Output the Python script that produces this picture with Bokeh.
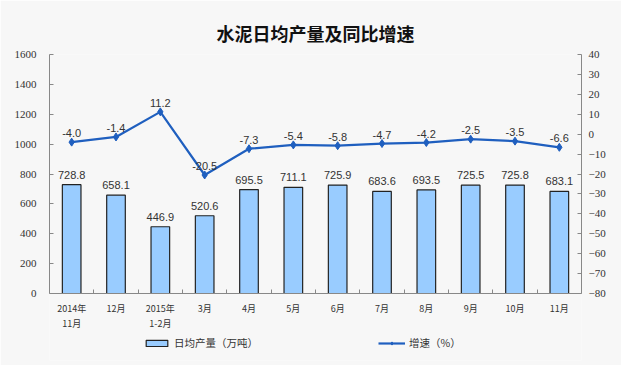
from bokeh.plotting import figure
from bokeh.models import (ColumnDataSource, Range1d, LinearAxis, FixedTicker, LabelSet,
                          Legend, LegendItem, Title)
from bokeh.embed import file_html
from bokeh.resources import INLINE
from bokeh.core.properties import value

categories = ["2014年\n11月", "12月", "2015年\n1-2月", "3月", "4月", "5月",
              "6月", "7月", "8月", "9月", "10月", "11月"]
output = [728.8, 658.1, 446.9, 520.6, 695.5, 711.1, 725.9, 683.6, 693.5, 725.5, 725.8, 683.1]
growth = [-4.0, -1.4, 11.2, -20.5, -7.3, -5.4, -5.8, -4.7, -4.2, -2.5, -3.5, -6.6]
left_ticks = [0, 200, 400, 600, 800, 1000, 1200, 1400, 1600]
right_ticks = [-80, -70, -60, -50, -40, -30, -20, -10, 0, 10, 20, 30, 40]

BG = "#f7f7f7"
BAR = "#99ccff"
LINE = "#1f5fbf"

W, H = 621, 365
TOP, BOTTOM, LEFT, RIGHT = 54, 5, 49, 40
ZERO_Y = 293  # pixel row of the value-axis zero
px_per_unit = (ZERO_Y - TOP) / 1600.0
low = -(H - BOTTOM - ZERO_Y) / px_per_unit
g_low = -80 + low * 120.0 / 1600.0

xs = list(range(len(categories)))
src = ColumnDataSource(dict(
    x=xs, out=output, gr=growth,
    out_lbl=[f"{v:.1f}" for v in output],
    gr_lbl=[f"{v:.1f}" for v in growth],
))

p = figure(width=W, height=H, output_backend="svg", toolbar_location=None,
           x_range=Range1d(-0.5, len(categories) - 0.5), y_range=Range1d(low, 1600),
           min_border_left=LEFT, min_border_right=RIGHT, min_border_top=TOP,
           min_border_bottom=BOTTOM,
           background_fill_color=BG, border_fill_color=BG, outline_line_color=None)
p.title = Title(text="水泥日均产量及同比增速", align="center",
                text_font="Noto Sans CJK SC", text_font_size="18px",
                text_font_style="bold", text_color="#111111", standoff=17, offset=-9)
p.grid.visible = False
p.extra_y_ranges = {"g": Range1d(g_low, 40)}

# x axis, pinned at zero
xa = p.xaxis[0]
xa.fixed_location = 0
xa.ticker = FixedTicker(ticks=xs, minor_ticks=[i + 0.5 for i in range(-1, len(categories))])
xa.major_label_overrides = {i: c for i, c in enumerate(categories)}
xa.major_tick_in = 0
xa.major_tick_out = 0
xa.minor_tick_in = 4
xa.minor_tick_out = 0
xa.axis_line_color = "#888888"
xa.minor_tick_line_color = "#888888"
xa.major_label_text_font = "Noto Sans CJK SC"
xa.major_label_text_font_size = "9px"
xa.major_label_text_color = "#333333"
xa.major_label_standoff = 8

# left y axis
ya = p.yaxis[0]
ya.bounds = (0, 1600)
ya.ticker = FixedTicker(ticks=left_ticks)
ya.major_tick_in = 4
ya.major_tick_out = 0
ya.minor_tick_line_color = None
ya.axis_line_color = "#888888"
ya.major_tick_line_color = "#888888"
ya.major_label_text_font = "Liberation Serif"
ya.major_label_text_font_size = "11px"
ya.major_label_text_color = "#333333"
ya.major_label_standoff = 13

# right y axis
ra = LinearAxis(y_range_name="g", ticker=FixedTicker(ticks=right_ticks), bounds=(-80, 40))
ra.major_tick_in = 4
ra.major_tick_out = 0
ra.minor_tick_line_color = None
ra.axis_line_color = "#888888"
ra.major_tick_line_color = "#888888"
ra.major_label_text_font = "Liberation Serif"
ra.major_label_text_font_size = "11px"
ra.major_label_text_color = "#333333"
ra.major_label_standoff = 7
p.add_layout(ra, "right")

bars = p.vbar(x="x", top="out", width=0.42, source=src, fill_color=BAR,
              line_color="#222222", line_width=1.2)
ln = p.line(x="x", y="gr", source=src, y_range_name="g", line_color=LINE, line_width=2.2)
mk = p.scatter(x="x", y="gr", source=src, y_range_name="g", marker="diamond", size=8,
               fill_color=LINE, line_color=LINE)

p.add_layout(LabelSet(x="x", y="out", text="out_lbl", source=src, text_align="center",
                      text_baseline="bottom", y_offset=6, text_font=value("Liberation Sans"),
                      text_font_size="11px", text_color="#333333"))
p.add_layout(LabelSet(x="x", y="gr", text="gr_lbl", source=src, y_range_name="g",
                      text_align="center", text_baseline="bottom", y_offset=5,
                      text_font=value("Liberation Sans"), text_font_size="11px",
                      text_color="#333333"))

legend = Legend(items=[LegendItem(label="日均产量（万吨）", renderers=[bars]),
                       LegendItem(label="增速（%）", renderers=[ln, mk])],
                orientation="horizontal", location=(94, 10), spacing=120,
                background_fill_alpha=0, border_line_color=None,
                label_text_font="Noto Sans CJK SC", label_text_font_size="10.5px",
                label_text_color="#333333", glyph_width=27, glyph_height=8,
                padding=0, margin=0, label_standoff=4, label_height=12)
p.add_layout(legend, "center")

open("out.html", "w").write(file_html(p, INLINE))
